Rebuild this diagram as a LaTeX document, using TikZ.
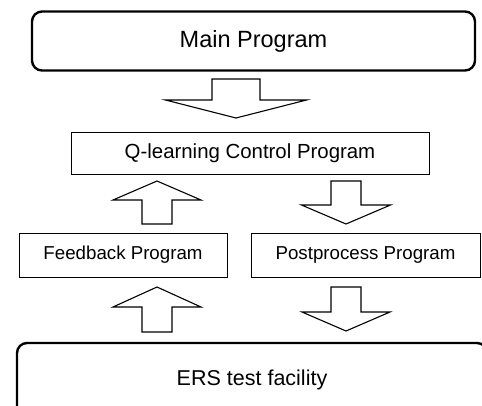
\documentclass[tikz,border=0pt]{standalone}
\usepackage{fontspec}
\setmainfont{Liberation Sans}

% block arrows: x, top, bottom, shaft half width, head half width, head length
\newcommand{\blkdown}[6]{%
  \draw[blk] (#1-#4,#2) -- (#1+#4,#2) -- (#1+#4,#3-#6) -- (#1+#5,#3-#6)
    -- (#1,#3) -- (#1-#5,#3-#6) -- (#1-#4,#3-#6) -- cycle;}
\newcommand{\blkup}[6]{%
  \draw[blk] (#1,#2) -- (#1+#5,#2+#6) -- (#1+#4,#2+#6) -- (#1+#4,#3)
    -- (#1-#4,#3) -- (#1-#4,#2+#6) -- (#1-#5,#2+#6) -- cycle;}

\begin{document}
\begin{tikzpicture}[x=1pt, y=-1pt,
    bigbox/.style={draw, line width=2.4pt, rounded corners=10pt, inner sep=0pt,
      font=\fontsize{22.5}{25}\selectfont},
    progbox/.style={draw, line width=0.9pt, inner sep=0pt,
      font=\fontsize{18.7}{22}\selectfont},
    blk/.style={draw, line width=1.1pt, fill=white}]
    \useasboundingbox (0,0) rectangle (482,405);
    \clip (0,0) rectangle (482,405);
    % Boxes
    \node[bigbox, minimum width=443pt, minimum height=59pt,
      font=\fontsize{23.5}{26}\selectfont] (main)
    at (253.5,41) {Main Program};
    \node[progbox, minimum width=358pt, minimum height=42pt,
      font=\fontsize{20.4}{23}\selectfont] (qlearn)
    at (250,153) {Q-learning Control Program};
    \node[progbox, minimum width=208pt, minimum height=44pt] (feedback)
    at (123,255) {Feedback Program};
    \node[progbox, minimum width=229pt, minimum height=44pt] (postproc)
    at (365.5,255) {Postprocess Program};
    \node[bigbox, minimum width=470pt, minimum height=74pt,
      font=\fontsize{21.5}{24}\selectfont] (ers)
    at (252,380) {ERS test facility};
    % Arrows between the boxes
    \blkdown{236}{79}{118}{24}{70.5}{18} % main -> qlearn
    \blkup{157}{181}{224}{15}{44}{19}    % feedback -> qlearn
    \blkdown{346}{181}{224}{15}{44.5}{19} % qlearn -> postproc
    \blkup{157}{287}{332}{15}{44}{20}    % ers -> feedback
    \blkdown{346}{287}{331}{15}{44}{19}  % postproc -> ers
\end{tikzpicture}
\end{document}
